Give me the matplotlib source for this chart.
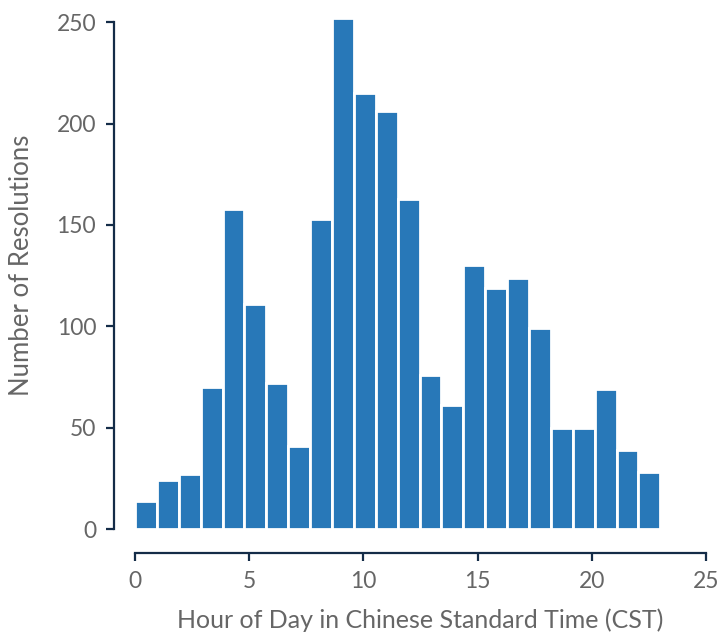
import numpy as np
import matplotlib
matplotlib.use("Agg")
import matplotlib.pyplot as plt

# ── data ──────────────────────────────────────────────────────────────────────
counts = [14, 24, 27, 70, 158, 111, 72, 41, 153, 252, 215, 206,
          163, 76, 61, 130, 119, 124, 99, 50, 50, 69, 39, 28]
bin_edges = np.linspace(0, 23, len(counts) + 1)
x_ticks = [0, 5, 10, 15, 20, 25]
y_ticks = [0, 50, 100, 150, 200, 250]

bar_colour = "#2878b8"
spine_colour = "#142c48"
text_colour = "#666666"

plt.rcParams["font.family"] = ["Lato", "DejaVu Sans"]

fig = plt.figure(figsize=(7.18, 6.38), dpi=100)
ax = fig.add_axes([135 / 718, 109 / 638, 571 / 718, 527 / 638])

widths = np.diff(bin_edges)
ax.bar(bin_edges[:-1], counts, width=widths, align="edge",
       color=bar_colour, edgecolor="white", linewidth=2.0)

ax.set_xlim(0, 25)
ax.set_ylim(0, 260)
ax.set_xticks(x_ticks)
ax.set_yticks(y_ticks)

for side in ("top", "right"):
    ax.spines[side].set_visible(False)
ax.spines["left"].set_position(("outward", 15))
ax.spines["bottom"].set_position(("outward", 17))
ax.spines["left"].set_bounds(0, 250)
ax.spines["bottom"].set_bounds(0, 25)
for side in ("left", "bottom"):
    ax.spines[side].set_color(spine_colour)
    ax.spines[side].set_linewidth(1.6)

ax.tick_params(axis="both", colors=spine_colour, width=1.6, length=6,
               labelsize=16.5, labelcolor=text_colour, pad=7)

ax.set_xlabel("Hour of Day in Chinese Standard Time (CST)", fontsize=18,
              color=text_colour, labelpad=12)
ax.set_ylabel("Number of Resolutions", fontsize=18.5,
              color=text_colour, labelpad=16)

fig.savefig("out.png", dpi=100)
